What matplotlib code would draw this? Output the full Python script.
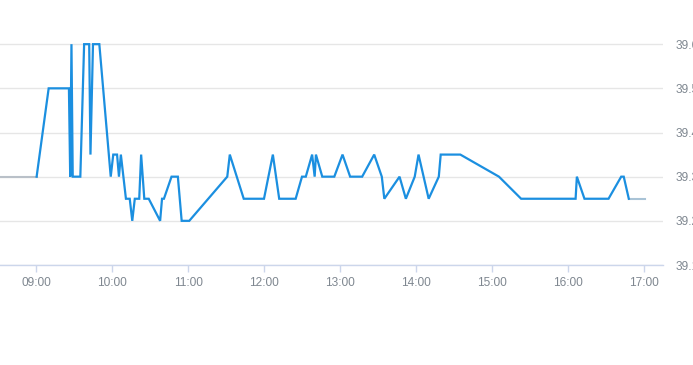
import matplotlib
matplotlib.use("Agg")
import matplotlib.pyplot as plt
import matplotlib.dates as mdates
import pandas as pd

DAY = "2024-01-01 "

times = ["09:00:30", "09:10", "09:26", "09:27", "09:28", "09:29", "09:31", "09:35",
         "09:38", "09:42", "09:43", "09:45", "09:50", "09:59", "10:01", "10:04",
         "10:05:30", "10:07", "10:11", "10:14", "10:16", "10:18", "10:21:30", "10:23",
         "10:25:30", "10:29", "10:38", "10:39:30", "10:41", "10:47", "10:52", "10:55",
         "11:01", "11:31", "11:33", "11:44", "12:00", "12:07", "12:12", "12:25",
         "12:30", "12:33", "12:38", "12:40", "12:41", "12:46", "12:55:30", "13:02",
         "13:08", "13:17:30", "13:27", "13:33", "13:35", "13:47", "13:52", "13:59",
         "14:02", "14:10", "14:18", "14:19:30", "14:35", "15:05:30", "15:23", "16:06",
         "16:07", "16:13", "16:32", "16:42", "16:44", "16:48"]
values = [39.3, 39.5, 39.5, 39.3, 39.6, 39.3, 39.3, 39.3,
          39.6, 39.6, 39.35, 39.6, 39.6, 39.3, 39.35, 39.35,
          39.3, 39.35, 39.25, 39.25, 39.2, 39.25, 39.25, 39.35,
          39.25, 39.25, 39.2, 39.25, 39.25, 39.3, 39.3, 39.2,
          39.2, 39.3, 39.35, 39.25, 39.25, 39.35, 39.25, 39.25,
          39.3, 39.3, 39.35, 39.3, 39.35, 39.3, 39.3, 39.35,
          39.3, 39.3, 39.35, 39.3, 39.25, 39.3, 39.25, 39.3,
          39.35, 39.25, 39.3, 39.35, 39.35, 39.3, 39.25, 39.25,
          39.3, 39.25, 39.25, 39.3, 39.3, 39.25]

pre_times = ["08:31:35", "09:00:30"]
pre_values = [39.3, 39.3]
post_times = ["16:48", "17:01"]
post_values = [39.25, 39.25]

x_ticks = ["09:00", "10:00", "11:00", "12:00", "13:00", "14:00", "15:00", "16:00", "17:00"]
y_ticks = [39.1, 39.2, 39.3, 39.4, 39.5, 39.6]


def to_dt(lst):
    return pd.to_datetime([DAY + t for t in lst], format="mixed")


fig = plt.figure(figsize=(6.93, 3.65), dpi=100)
ax = fig.add_axes([0, 100 / 365, 663 / 693, 265 / 365])

ax.plot(to_dt(pre_times), pre_values, color="#b9c0c8", lw=1.5, zorder=2)
ax.plot(to_dt(post_times), post_values, color="#a9c3d6", lw=1.5, zorder=2)
ax.plot(to_dt(times), values, color="#1b8fe0", lw=1.6, zorder=3,
        solid_joinstyle="miter")

ax.set_xlim(pd.Timestamp(DAY + "08:31:35"), pd.Timestamp(DAY + "17:15"))
ax.set_ylim(39.1, 39.7)

ax.set_xticks(to_dt(x_ticks))
ax.xaxis.set_major_formatter(mdates.DateFormatter("%H:%M"))
ax.set_yticks(y_ticks)
ax.set_yticklabels([f"{v:.1f}" for v in y_ticks])

ax.yaxis.tick_right()
ax.grid(axis="y", color="#e6e6e6", lw=1)
ax.set_axisbelow(True)
for s in ["top", "left", "right"]:
    ax.spines[s].set_visible(False)
ax.spines["bottom"].set_color("#ccd6eb")
ax.spines["bottom"].set_linewidth(1)

font = "Liberation Sans"
ax.tick_params(axis="x", length=5, color="#ccd6eb", width=1, pad=4,
               labelsize=8.6, labelcolor="#7f8790")
ax.tick_params(axis="y", length=0, pad=9, labelsize=8.6, labelcolor="#7f8790")
for lab in ax.get_xticklabels() + ax.get_yticklabels():
    lab.set_fontfamily(font)

fig.savefig("out.png", dpi=100)
